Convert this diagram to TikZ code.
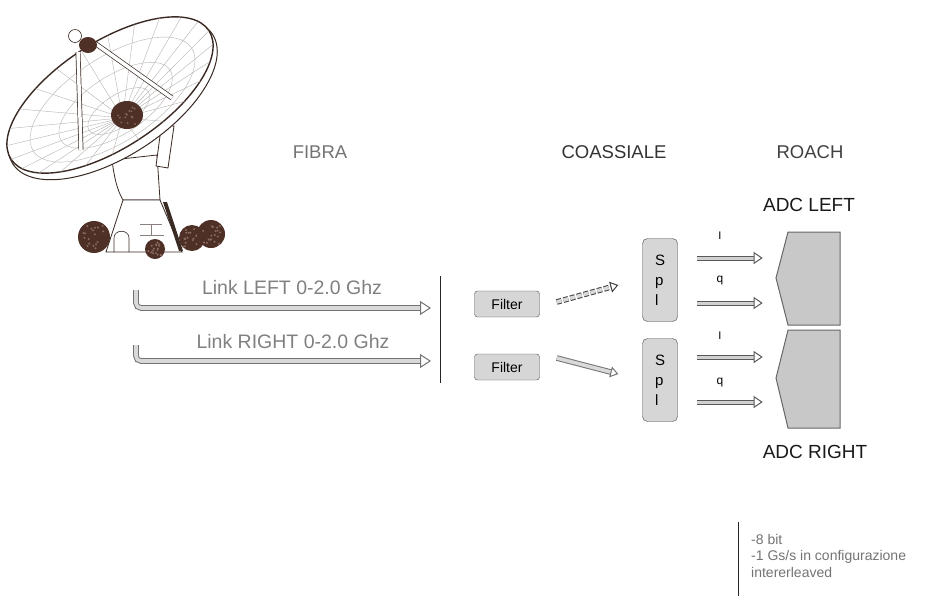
\documentclass[tikz,border=0pt]{standalone}
\usepackage{fontspec}
\setmainfont{Liberation Sans}
\usetikzlibrary{arrows.meta,positioning}

\definecolor{dishline}{HTML}{3A2A24}
\definecolor{dishbrown}{HTML}{4E3027}
\definecolor{bushdot}{HTML}{8A6A5E}
\definecolor{meshgray}{HTML}{B8B4B2}
\definecolor{boxfill}{HTML}{D6D6D6}
\definecolor{adcfill}{HTML}{C8C8C8}

\newcommand{\fsz}[2]{\fontsize{#1}{#2}\selectfont}

\tikzset{
  header/.style={font=\fsz{18.5}{20}},
  linklabel/.style={font=\fsz{19.5}{22}, text=black!50},
  adclabel/.style={font=\fsz{19}{22}, text=black!90},
  filterbox/.style={draw=black!70, fill=boxfill, rounded corners=3pt, minimum width=65pt, minimum height=26pt, inner sep=0pt, font=\fsz{14}{16}},
  splbox/.style={draw=black!75, fill=boxfill, rounded corners=5pt, minimum width=35pt, minimum height=83pt, inner sep=0pt, align=left, font=\fsz{15}{20}},
  adc/.style={draw=black!60, fill=adcfill, line width=1pt},
  pipe/.style={draw=black!55, line width=1pt, double=black!15, double distance=3.6pt, -{Triangle[open,length=11pt,width=14pt]}},
  iq/.style={draw=black!65, line width=1pt, double=black!18, double distance=3pt, -{Triangle[open,length=9pt,width=12pt]}},
  strut/.style={draw=dishline, line width=.7pt, double=white, double distance=3.5pt},
  meshline/.style={draw=meshgray, line width=.4pt},
  note/.style={font=\fsz{14}{16.5}, text=black!55, align=left, inner sep=0pt}
}

\begin{document}
\begin{tikzpicture}[x=1pt,y=-1pt]
\useasboundingbox (0,0) rectangle (925,603);

% antenna
\draw[dishline, fill=white, line width=.8pt] (112,160) .. controls (115,185) and (120,195) .. (123,200) -- (160,200) -- (157,155) -- cycle;
\draw[dishline, fill=white, line width=.8pt] (138,122) -- (174,126) -- (168,168) -- (156,166) -- (160,136) -- cycle;
\draw[dishline, fill=white, line width=.8pt] (123,200) -- (160,200) -- (182,252) -- (106,252) -- cycle;
\fill[dishline] (163,202) -- (167,202) -- (183,251) -- (179,251) -- cycle;
\draw[dishline, line width=.6pt] (114,252) -- (114,238) .. controls (114,229) and (129,229) .. (129,238) -- (129,252);
\draw[dishline!60, line width=.5pt] (140,224) -- (162,224) (140,235) -- (164,235) (151,224) -- (151,235);

\begin{scope}[shift={(110,95)}, rotate=33]
  \draw[dishline, line width=1pt, fill=white] (0,5) ellipse (119 and 57);
  \draw[dishline, line width=1.4pt, fill=white] (0,0) ellipse (118 and 53);
  \foreach \a in {0,15,...,345}
    \draw[meshline] (-2,26) -- ({118*cos(\a)},{53*sin(\a)});
  \foreach \s in {.3,.55,.8}
    \draw[meshline] ({-2*(1-\s)},{26*(1-\s)}) ellipse ({118*\s} and {53*\s});
\end{scope}
\fill[dishbrown] (127,115) ellipse (16 and 14);
\pgfmathsetseed{7}
\foreach \i in {1,...,14}
  \fill[bushdot] ({127+11*rand},{115+9*rand}) circle (1);

\draw[strut] (78,52) -- (81,150);
\draw[strut] (96,44) -- (172,98);
\fill[dishbrown] (88,45) ellipse (9 and 8);
\draw[dishline, fill=white, line width=.6pt] (75,36) circle (6.5);

\foreach \cx/\cy/\r in {94/237/16, 155/249/10, 192/238/13, 211/234/14} {
  \fill[dishbrown] (\cx,\cy) circle (\r);
  \foreach \i in {1,...,18}
    \fill[bushdot] ({\cx+0.7*\r*rand},{\cy+0.7*\r*rand}) circle (1.1);
}

% headers
\node[header, text=black!55] (fibra) at (320,152) {FIBRA};
\node[header, text=black!80] (coax) at (614,152) {COASSIALE};
\node[header, text=black!75] (roach) at (810,152) {ROACH};

% fibre links
\coordinate (linkL) at (136,290);
\coordinate (linkLend) at (431,308);
\coordinate (linkR) at (136,345);
\coordinate (linkRend) at (431,361);
\draw[pipe, rounded corners=5pt] (linkL) |- (linkLend);
\draw[pipe, rounded corners=5pt] (linkR) |- (linkRend);
\node[linklabel] (linkLtxt) at (292,288) {Link LEFT 0-2.0 Ghz};
\node[linklabel] (linkRtxt) at (293,342) {Link RIGHT 0-2.0 Ghz};
\draw[black!85, line width=.8pt] (440,276) -- (440,383);

% coax
\node[filterbox] (filt1) at (507,304) {Filter};
\node[filterbox] (filt2) at (507,367) {Filter};
\node[splbox] (spl1) at (660,280) {S\\p\\l};
\node[splbox] (spl2) at (660,380) {S\\p\\l};
\draw[pipe, draw=black!75, dash pattern=on 5pt off 2pt, -{Triangle[open,length=8pt,width=11pt]}] ([xshift=17pt,yshift=2pt]filt1.east) -- ([xshift=-24pt,yshift=-5pt]spl1.west);
\draw[pipe, -{Triangle[open,length=8pt,width=11pt]}] ([xshift=17pt,yshift=9pt]filt2.east) -- ([xshift=-24pt,yshift=6pt]spl2.west);

% roach
\draw[adc] (788,232) -- (840,232) -- (840,325) -- (788,325) -- (776,278) -- cycle;
\draw[adc] (788,330) -- (840,330) -- (840,428) -- (788,428) -- (776,378) -- cycle;
\draw[iq] ([xshift=19pt,yshift=22pt]spl1.east) -- ++(66,0);
\draw[iq] ([xshift=19pt,yshift=-23pt]spl1.east) -- ++(66,0);
\draw[iq] ([xshift=19pt,yshift=23pt]spl2.east) -- ++(66,0);
\draw[iq] ([xshift=19pt,yshift=-22pt]spl2.east) -- ++(66,0);
\node[font=\fsz{11}{12}] (i1) at (720,236) {I};
\node[font=\fsz{12}{12}] (q1) at (720,281) {q};
\node[font=\fsz{11}{12}] (i2) at (720,336) {I};
\node[font=\fsz{12}{12}] (q2) at (720,383) {q};
\node[adclabel] (adcL) at (809,205) {ADC LEFT};
\node[adclabel] (adcR) at (815,452) {ADC RIGHT};

% notes
\draw[black!85, line width=.9pt] (738,522) -- (738,596);
\node[note, anchor=north west] (specs) at (751,534) {-8 bit\\-1 Gs/s in configurazione\\intererleaved};
\end{tikzpicture}
\end{document}
